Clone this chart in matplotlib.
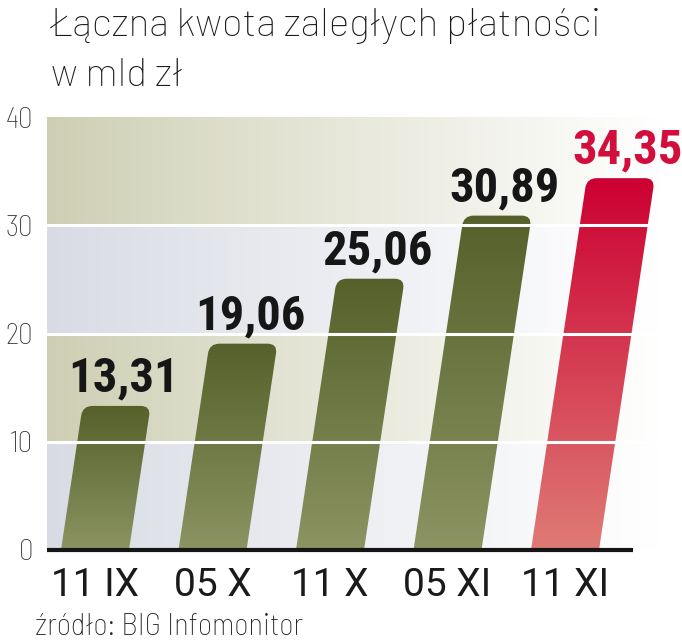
import numpy as np
import matplotlib
matplotlib.use('Agg')
import matplotlib.pyplot as plt
from matplotlib.path import Path
from matplotlib.patches import PathPatch
from matplotlib.colors import to_rgb

dates = ['11 IX', '05 X', '11 X', '05 XI', '11 XI']
values = [13.31, 19.06, 25.06, 30.89, 34.35]
yticks = [0, 10, 20, 30, 40]

FONT = ['Roboto Condensed', 'DejaVu Sans']
THIN = ['Barlow Semi Condensed', 'Roboto Condensed', 'DejaVu Sans']
WIDE = ['Barlow', 'Roboto', 'DejaVu Sans']
plt.rcParams['font.family'] = FONT

olive = ('#55602a', '#8b9462')   # top, bottom
red = ('#cc0032', '#df7b75')

fig = plt.figure(figsize=(6.82, 6.4), dpi=100)
ax = fig.add_axes([47 / 682, 90 / 640, 613 / 682, 433 / 640])
xmin, xmax = -0.4085, 4.8085
ax.set_xlim(xmin, xmax)
ax.set_ylim(0, 40)

# background bands, fading to white towards the right
band_cols = ['#d8dbe4', '#cdceb2', '#d8dbe4', '#cdceb2']
for k, c in enumerate(band_cols):
    c0 = np.array(to_rgb(c))
    t = np.linspace(0, 1, 256)[:, None]
    row = c0 + (1 - c0) * t ** 0.9
    ax.imshow(row[None, :, :], extent=(xmin, xmax, yticks[k], yticks[k + 1]),
              aspect='auto', zorder=0, interpolation='bilinear')

# slanted bars with rounded tops
w = 68 / 117.5
s = 0.15 * 10.83 / 117.5     # x shift per unit of value
rx, ry = 0.085, 0.9
for i, v in enumerate(values):
    xl, xr = i - w / 2, i + w / 2
    verts = [(xl, 0), (xr, 0),
             (xr + s * (v - ry), v - ry), (xr + s * v, v), (xr + s * v - rx, v),
             (xl + s * v + rx, v), (xl + s * v, v), (xl + s * (v - ry), v - ry),
             (xl, 0)]
    codes = [Path.MOVETO, Path.LINETO, Path.LINETO, Path.CURVE3, Path.CURVE3,
             Path.LINETO, Path.CURVE3, Path.CURVE3, Path.CLOSEPOLY]
    patch = PathPatch(Path(verts, codes), facecolor='none', edgecolor='none')
    ax.add_patch(patch)
    top, bot = red if i == len(values) - 1 else olive
    ct, cb = np.array(to_rgb(top)), np.array(to_rgb(bot))
    t = np.linspace(0, 1, 256)[:, None]
    grad = cb + (ct - cb) * t
    im = ax.imshow(grad[:, None, :], extent=(xl, xr + s * v, 0, v), origin='lower',
                   aspect='auto', zorder=2, interpolation='bilinear')
    im.set_clip_path(patch)
    col = '#d20f3c' if i == len(values) - 1 else '#161616'
    ax.text(i + s * v + 0.06, v + 1.35, f'{v:.2f}'.replace('.', ','),
            ha='center', va='baseline', fontsize=35, fontweight='bold', color=col,
            zorder=4)

# white grid lines over everything
for y in yticks[1:-1]:
    ax.axhline(y, color='white', lw=2.2, zorder=3)

ax.plot([xmin, (633 - 95) / 117.5], [0, 0], color='#151515', lw=3, zorder=5,
        solid_capstyle='butt', clip_on=False)

for sp in ax.spines.values():
    sp.set_visible(False)
ax.set_xticks(range(len(dates)))
ax.set_xticklabels(dates, fontsize=28, color='#1a1a1a', family=['Roboto', 'DejaVu Sans'])
ax.set_yticks(yticks)
ax.set_yticklabels([str(y) for y in yticks], fontsize=21, fontweight='light',
                   color='#333333', family=THIN)
ax.tick_params(axis='x', length=0, pad=12)
ax.tick_params(axis='y', length=0, pad=10)

fig.text(51 / 682, 1 - 36 / 640, 'Łączna kwota zaległych płatności', fontsize=28,
         fontweight='light', color='#1a1a1a', va='baseline', family=WIDE)
fig.text(51 / 682, 1 - 86 / 640, 'w mld zł', fontsize=28,
         fontweight='light', color='#1a1a1a', va='baseline', family=WIDE)
fig.text(35 / 682, 1 - 635 / 640, 'źródło: BIG Infomonitor', fontsize=22,
         fontweight='light', color='#222222', va='baseline', family=THIN)

fig.savefig('out.png', dpi=100)
